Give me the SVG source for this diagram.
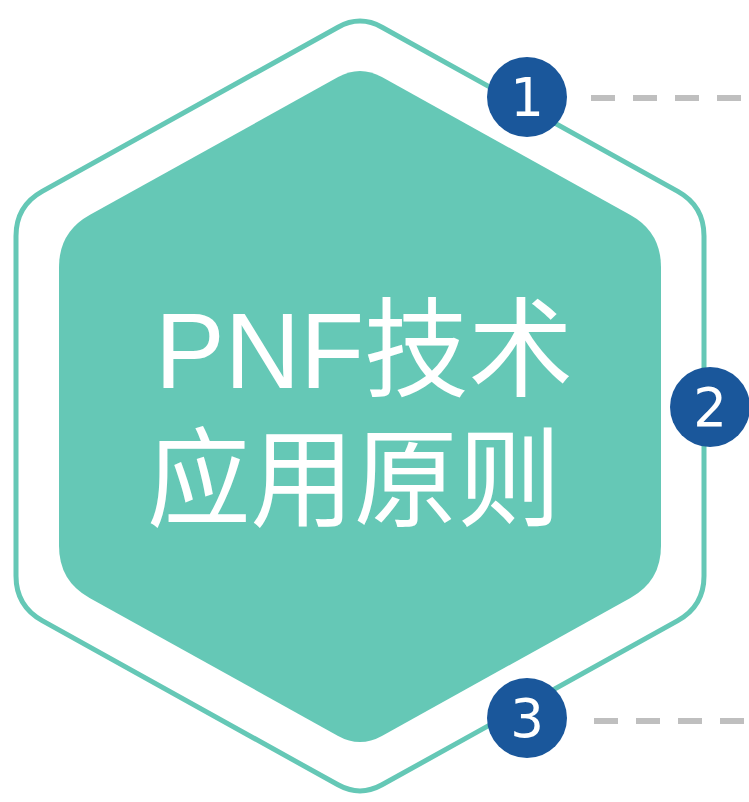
<svg xmlns="http://www.w3.org/2000/svg" width="749" height="802" viewBox="0 0 749 802">
<style>
.badge{fill:#1a579b}
.num{fill:#ffffff;font-family:"DejaVu Sans","Liberation Sans",sans-serif;font-size:53px;text-anchor:middle}
.dash{stroke:#bfbfbf;stroke-width:6;stroke-dasharray:24 18;fill:none}
.title{fill:#ffffff;font-family:"Liberation Sans","Noto Sans CJK SC",sans-serif;font-size:108px}
</style>
<rect width="749" height="802" fill="#ffffff"/>
<g id="outer-hexagon">
<path d="M338,27.2 Q360,15 382,27.2 L677.8,191.4 Q704,206 704,236 L704,576 Q704,606 677.8,620.6 L382,784.8 Q360,797 338,784.8 L42.2,620.6 Q16,606 16,576 L16,236 Q16,206 42.2,191.4 Z" fill="none" stroke="#65c8b6" stroke-width="5"/>
</g>
<g id="inner-hexagon">
<path d="M338.1,77.1 Q360,65 381.9,77.1 L630.4,215 Q661,232 661,267 L661,546 Q661,581 630.4,598 L381.9,735.9 Q360,748 338.1,735.9 L89.6,598 Q59,581 59,546 L59,267 Q59,232 89.6,215 Z" fill="#65c8b6"/>
<text class="title"><tspan x="155" y="388" textLength="418" lengthAdjust="spacingAndGlyphs">PNF技术</tspan><tspan x="147" y="518" textLength="414" lengthAdjust="spacingAndGlyphs">应用原则</tspan></text>
</g>
<g id="connectors">
<line class="dash" x1="591" y1="98" x2="749" y2="98"/>
<line class="dash" x1="594" y1="721" x2="749" y2="721"/>
</g>
<g id="badge-1">
<circle class="badge" cx="527" cy="97" r="40"/>
<text class="num" x="527" y="116">1</text>
</g>
<g id="badge-2">
<circle class="badge" cx="710" cy="407" r="40"/>
<text class="num" x="710" y="426">2</text>
</g>
<g id="badge-3">
<circle class="badge" cx="527" cy="718" r="40"/>
<text class="num" x="527" y="737">3</text>
</g>
</svg>
